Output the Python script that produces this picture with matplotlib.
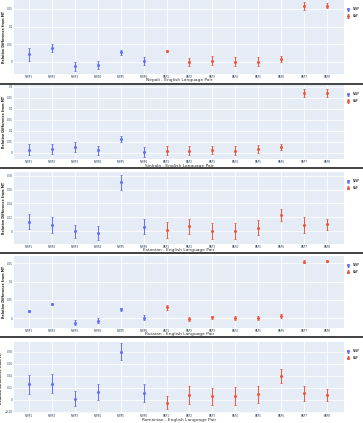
import numpy as np
import matplotlib
matplotlib.use("Agg")
import matplotlib.pyplot as plt
from matplotlib.ticker import FuncFormatter

categories = ["NWP1", "NWP2", "NWP3", "NWP4", "NWP5", "NWP6",
              "RAP1", "RAP2", "RAP3", "RAP4", "RAP5", "RAP6", "RAP7", "RAP8"]
n_nwp = 6

titles = ["Nepali - English Language Pair", "Sinhala - English Language Pair",
          "Estonian - English Language Pair", "Russian - English Language Pair",
          "Romanian - English Language Pair"]

# mean relative difference and error per category
nepali_mean = [0.022, 0.040, -0.012, -0.0075, 0.027, 0.002,
               0.031, 0.000, 0.004, 0.001, 0.001, 0.0075, 0.157, 0.159]
nepali_err = [0.018, 0.012, 0.013, 0.011, 0.007, 0.011,
              0.003, 0.010, 0.012, 0.012, 0.012, 0.009, 0.011, 0.008]

sinhala_mean = [0.012, 0.017, 0.024, 0.011, 0.061, 0.003,
                0.008, 0.008, 0.012, 0.009, 0.015, 0.026, 0.271, 0.271]
sinhala_err = [0.025, 0.022, 0.022, 0.021, 0.014, 0.021,
               0.020, 0.020, 0.019, 0.022, 0.019, 0.012, 0.019, 0.019]

estonian_mean = [0.0139, 0.0091, 0.000, -0.003, 0.0705, 0.0067,
                 0.002, 0.0072, 0.000, 0.0005, 0.0053, 0.023, 0.009, 0.010]
estonian_err = [0.0108, 0.011, 0.0094, 0.010, 0.0105, 0.011,
                0.012, 0.0105, 0.0115, 0.012, 0.011, 0.0086, 0.012, 0.0077]

russian_mean = [0.020, 0.038, -0.012, -0.0064, 0.025, 0.002,
                0.030, -0.001, 0.003, 0.001, 0.001, 0.007, 0.154, 0.157]
russian_err = [0.002, 0.003, 0.006, 0.006, 0.004, 0.006,
               0.0065, 0.0055, 0.004, 0.0055, 0.005, 0.005, 0.004, 0.003]

romanian_mean = [0.0256, 0.027, 0.002, 0.013, 0.080, 0.012,
                 -0.005, 0.0078, 0.006, 0.006, 0.009, 0.039, 0.0105, 0.0078]
romanian_err = [0.016, 0.015, 0.013, 0.013, 0.014, 0.015,
                0.0105, 0.0147, 0.014, 0.015, 0.014, 0.0117, 0.013, 0.0106]

means = [nepali_mean, sinhala_mean, estonian_mean, russian_mean, romanian_mean]
errs = [nepali_err, sinhala_err, estonian_err, russian_err, romanian_err]

ylims = [(-0.034, 0.175), (-0.029, 0.307), (-0.0183, 0.0853), (-0.0265, 0.170), (-0.022, 0.096)]
yticks = [np.arange(0, 0.16, 0.05), np.arange(0, 0.31, 0.05), np.arange(0, 0.081, 0.02),
          np.arange(0, 0.16, 0.05), np.arange(-0.02, 0.081, 0.02)]

# pixel layout (top, bottom of plot area, title y)
W, H = 363, 423
panels = [(0, 74, 80.5), (85, 159, 165.5), (172, 244, 250), (256, 328, 334.5), (342, 413, 419.5)]
separators = [84, 168, 253, 337]
x_left, x_right = 14.3, 344

blue = "#636efa"
red = "#EF553B"
bg = "#E5ECF6"

fig = plt.figure(figsize=(W / 100, H / 100), dpi=100)
fmt = FuncFormatter(lambda v, p: ("%g" % round(v, 4)).replace("-", "\u2212"))

x = np.arange(len(categories))
for i in range(5):
    top, bot, ty = panels[i]
    ax = fig.add_axes([x_left / W, 1 - bot / H, (x_right - x_left) / W, (bot - top) / H])
    ax.set_facecolor(bg)
    m = np.array(means[i])
    e = np.array(errs[i])
    ax.errorbar(x[:n_nwp], m[:n_nwp], yerr=e[:n_nwp], fmt="o", color=blue, ms=1.2,
                elinewidth=0.7, capsize=1.0, capthick=0.6, label="NWP", zorder=3)
    ax.errorbar(x[n_nwp:], m[n_nwp:], yerr=e[n_nwp:], fmt="o", color=red, ms=1.2,
                elinewidth=0.7, capsize=1.0, capthick=0.6, label="RAP", zorder=3)
    ax.set_xlim(-0.64, 13.74)
    ax.set_ylim(*ylims[i])
    ax.set_xticks(x)
    ax.set_xticklabels(categories)
    ax.set_yticks(yticks[i])
    ax.yaxis.set_major_formatter(fmt)
    ax.tick_params(length=0, labelsize=2.0, colors="#2a3f5f", pad=1.0)
    ax.grid(True, color="white", linewidth=0.6)
    ax.set_axisbelow(True)
    for s in ax.spines.values():
        s.set_visible(False)
    ax.set_ylabel("Relative Difference from MT", fontsize=2.3, color="#222222",
                  fontweight="bold", labelpad=1.0)
    fig.text((x_left + x_right) / 2 / W, 1 - ty / H, titles[i], fontsize=3.2,
             color="#333333", ha="center", va="center")
    ax.legend(loc="upper left", bbox_to_anchor=(1.002, 0.93), fontsize=2.2,
              frameon=False, handlelength=1.0, borderpad=0.2, labelspacing=0.9,
              handletextpad=0.8)

for s in separators:
    fig.add_artist(plt.Line2D([0, 1], [1 - s / H, 1 - s / H], color="#222222", linewidth=1.2))

fig.savefig("out.png", dpi=100)
